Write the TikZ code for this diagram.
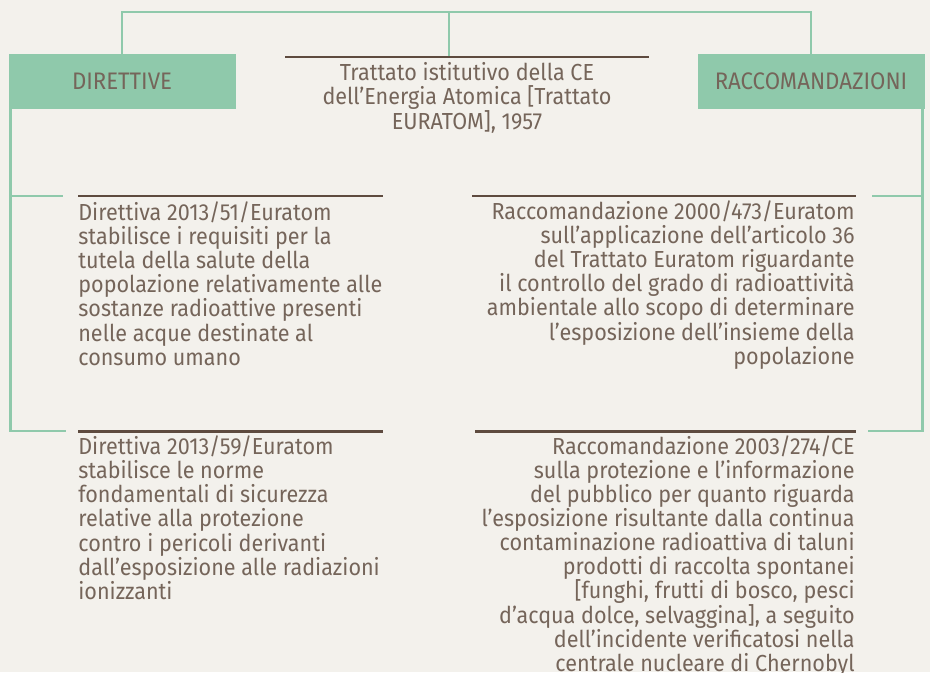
\documentclass[tikz,border=0pt]{standalone}
\usepackage{fontspec}
\setmainfont{Fira Sans}[FakeStretch=0.93]
\usepackage{xcolor}
\usepackage{tikz}
\usetikzlibrary{backgrounds,positioning}
\pgfdeclarelayer{edgelayer}
\pgfdeclarelayer{nodelayer}
\pgfsetlayers{background,edgelayer,nodelayer,main}
\definecolor{paper}{HTML}{F3F1EC}
\definecolor{mint}{HTML}{8FC9AB}
\definecolor{umber}{HTML}{5E4B3F}
\definecolor{ink}{HTML}{75655A}
\tikzstyle{body}=[inner sep=0pt,text=ink,font=\fontsize{13.2}{13.66}\selectfont]
\tikzstyle{gbox}=[body,fill=mint,minimum width=4.54cm,minimum height=1.1cm,font=\fontsize{13.6}{16}\selectfont]
\tikzstyle{ltext}=[body,anchor=base west,align=left]
\tikzstyle{rtext}=[body,anchor=base east,align=right]
\tikzstyle{ctext}=[body,anchor=base,align=center]
\tikzstyle{gline}=[draw=mint,line width=1.6pt]
\tikzstyle{bar}=[draw=umber,line width=1.7pt]

\begin{document}
\begin{tikzpicture}
	\useasboundingbox (0,0) rectangle (18.6,13.44);
	\begin{pgfonlayer}{background}
		\fill [paper] (0,0) rectangle (18.6,13.44);
	\end{pgfonlayer}
	\begin{pgfonlayer}{nodelayer}
		\node [style=gbox] (dir) at (2.44, 11.81) {DIRETTIVE};
		\node [style=gbox] (rac) at (16.22, 11.81) {RACCOMANDAZIONI};
		\node [style=ctext] (treaty) at (9.34, 10.86) {Trattato istitutivo della CE\\dell’Energia Atomica [Trattato\\EURATOM], 1957};
		\node [style=ltext] (d51) at (1.56, 6.14) {Direttiva 2013/51/Euratom\\stabilisce i requisiti per la\\tutela della salute della\\popolazione relativamente alle\\sostanze radioattive presenti\\nelle acque destinate al\\consumo umano};
		\node [style=rtext] (r473) at (17.1, 6.16) {Raccomandazione 2000/473/Euratom\\sull’applicazione dell’articolo 36\\del Trattato Euratom riguardante\\il controllo del grado di radioattività\\ambientale allo scopo di determinare\\l’esposizione dell’insieme della\\popolazione};
		\node [style=ltext] (d59) at (1.56, 1.46) {Direttiva 2013/59/Euratom\\stabilisce le norme\\fondamentali di sicurezza\\relative alla protezione\\contro i pericoli derivanti\\dall’esposizione alle radiazioni\\ionizzanti};
		\node [style=rtext] (r274) at (17.1, 0.02) {Raccomandazione 2003/274/CE\\sulla protezione e l’informazione\\del pubblico per quanto riguarda\\l’esposizione risultante dalla continua\\contaminazione radioattiva di taluni\\prodotti di raccolta spontanei\\{[}funghi, frutti di bosco, pesci\\d’acqua dolce, selvaggina], a seguito\\dell’incidente verificatosi nella\\centrale nucleare di Chernobyl};
		\coordinate (top) at (8.98, 13.2);
		\coordinate (tra) at (8.98, 12.3);
		\coordinate (tra1) at (5.7, 12.3);
		\coordinate (tra2) at (12.98, 12.3);
		\coordinate (dl1) at (1.26, 9.52);
		\coordinate (dl2) at (1.32, 4.82);
		\coordinate (rr1) at (17.44, 9.52);
		\coordinate (rr2) at (17.36, 4.82);
		\coordinate (d51a) at (1.56, 9.52);
		\coordinate (d51b) at (7.66, 9.52);
		\coordinate (d59a) at (1.56, 4.82);
		\coordinate (d59b) at (7.66, 4.82);
		\coordinate (r473a) at (9.44, 9.52);
		\coordinate (r473b) at (17.12, 9.52);
		\coordinate (r274a) at (9.5, 4.82);
		\coordinate (r274b) at (17.12, 4.82);
	\end{pgfonlayer}
	\begin{pgfonlayer}{edgelayer}
		\draw [style=gline] (dir.north) |- (top) -| (rac.north);
		\draw [style=gline] (top) to (tra);
		\draw [style=gline] ([xshift=0.05cm]dir.south west) |- (dl1);
		\draw [style=gline] ([xshift=0.05cm]dir.south west) |- (dl2);
		\draw [style=gline] ([xshift=-0.05cm]rac.south east) |- (rr1);
		\draw [style=gline] ([xshift=-0.05cm]rac.south east) |- (rr2);
		\draw [style=bar] (tra1) to (tra2);
		\draw [style=bar] (d51a) to (d51b);
		\draw [style=bar] (d59a) to (d59b);
		\draw [style=bar] (r473a) to (r473b);
		\draw [style=bar] (r274a) to (r274b);
	\end{pgfonlayer}
\end{tikzpicture}
\end{document}
